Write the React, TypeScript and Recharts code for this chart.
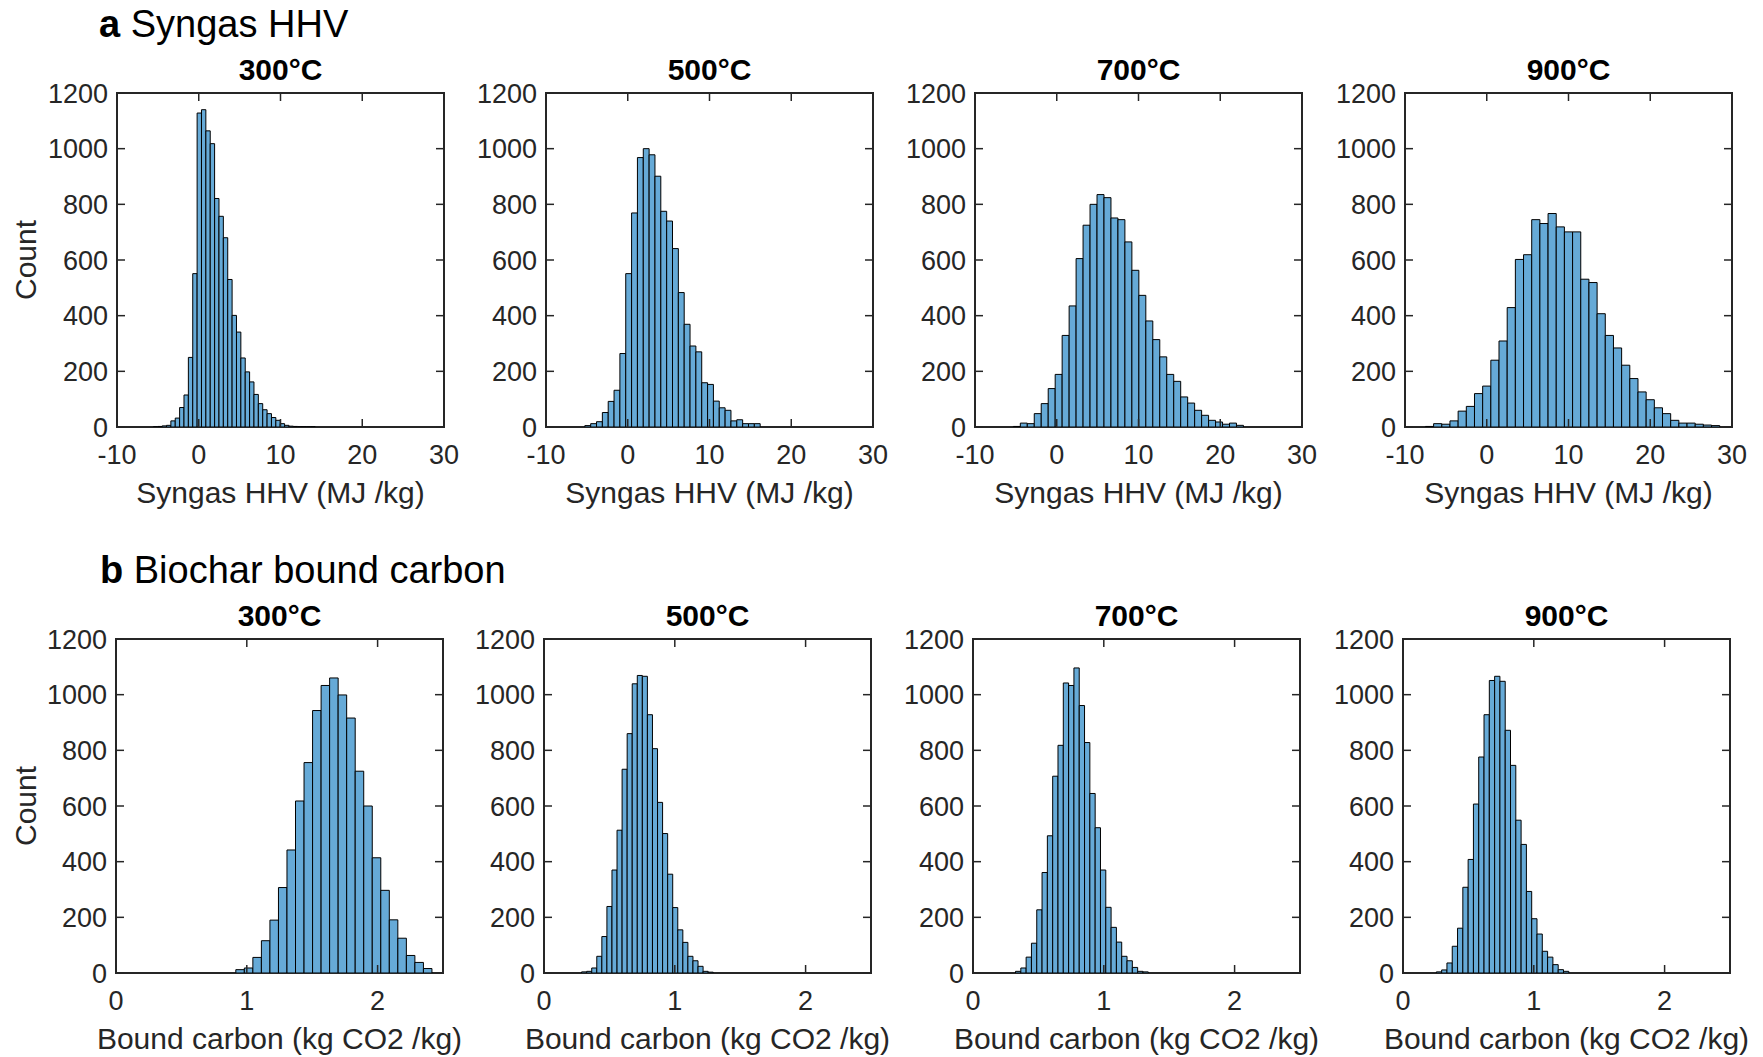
import { Bar, BarChart, Label, ReferenceArea, XAxis, YAxis } from "recharts";

// counts per bin
const hhv300 = [1, 2, 4, 6, 22, 32, 70, 115, 250, 551, 1128, 1140, 1064, 1018, 821, 757, 680, 530, 401, 341, 248, 198, 162, 117, 84, 62, 48, 34, 24, 12, 6, 3, 2, 1, 1, 1, 1];
const hhv500 = [5, 12, 19, 52, 92, 132, 264, 551, 769, 968, 1000, 978, 901, 775, 740, 641, 483, 369, 291, 270, 159, 153, 93, 69, 60, 22, 26, 12, 12, 12];
const hhv700 = [2, 14, 12, 48, 84, 138, 189, 329, 435, 605, 725, 800, 835, 824, 751, 745, 665, 563, 473, 381, 314, 252, 189, 164, 108, 86, 60, 42, 24, 18, 10, 14, 6];
const hhv900 = [2, 12, 10, 22, 57, 74, 120, 147, 240, 309, 429, 602, 619, 745, 731, 767, 719, 701, 701, 531, 519, 407, 329, 284, 222, 174, 126, 98, 69, 48, 24, 14, 14, 10, 7, 5];

const carbon300 = [12, 18, 56, 116, 190, 307, 442, 618, 756, 943, 1033, 1060, 999, 916, 725, 600, 414, 297, 191, 125, 63, 38, 16];
const carbon500 = [4, 6, 18, 60, 131, 239, 370, 513, 732, 860, 1039, 1069, 1066, 928, 806, 613, 501, 355, 235, 155, 110, 60, 44, 24, 6, 3];
const carbon700 = [6, 18, 57, 107, 227, 361, 493, 707, 818, 1042, 1033, 1096, 961, 828, 645, 522, 370, 236, 164, 111, 60, 44, 20, 6, 4];
const carbon900 = [4, 11, 36, 96, 161, 308, 408, 607, 776, 928, 1051, 1066, 1048, 872, 746, 549, 462, 293, 195, 140, 78, 57, 30, 12, 6];

// histogram bin edges (first edge, bin width)
const hhvBinStart = [-5.55, -5.25, -5.31, -7.5];
const hhvBinWidth = [0.535, 0.715, 0.853, 1];
const carbonBinStart = [0.916, 0.2875, 0.325, 0.255];
const carbonBinWidth = [0.0652, 0.0387, 0.0406, 0.0405];

const temps = ["300°C", "500°C", "700°C", "900°C"];
const countTicks = [0, 200, 400, 600, 800, 1000, 1200];
const hhvTicks = [-10, 0, 10, 20, 30];
const carbonTicks = [0, 1, 2];

const AX = "#262626";
const FONT = '"Liberation Sans", Arial, Helvetica, sans-serif';
const PLOT_W = 327;
const PLOT_H = 334;
const AXIS_W = 110;
const TOP_PAD = 25;
const RIGHT_PAD = 40;
const BOTTOM_H = 88;
const TICK_LEN = 8;

const rowTops = [93, 639];
const colLefts = [
  [117, 546, 975, 1405],
  [116, 544, 973, 1403],
];

function XTick(props: any) {
  const { x, y, payload } = props;
  return (
    <g>
      <line x1={x} y1={y} x2={x} y2={y - TICK_LEN} stroke={AX} strokeWidth={1.5} />
      <line x1={x} y1={y - PLOT_H} x2={x} y2={y - PLOT_H + TICK_LEN} stroke={AX} strokeWidth={1.5} />
      <text x={x} y={y + 37} textAnchor="middle" fontSize={27} fontFamily={FONT} fill={AX}>
        {payload.value}
      </text>
    </g>
  );
}

function YTick(props: any) {
  const { x, y, payload } = props;
  return (
    <g>
      <line x1={x} y1={y} x2={x + TICK_LEN} y2={y} stroke={AX} strokeWidth={1.5} />
      <line x1={x + PLOT_W} y1={y} x2={x + PLOT_W - TICK_LEN} y2={y} stroke={AX} strokeWidth={1.5} />
      <text x={x - 9} y={y} dy="0.36em" textAnchor="end" fontSize={27} fontFamily={FONT} fill={AX}>
        {payload.value}
      </text>
    </g>
  );
}

type HistProps = {
  left: number;
  top: number;
  counts: number[];
  binStart: number;
  binWidth: number;
  domain: [number, number];
  ticks: number[];
  xLabel: string;
};

function Histogram({ left, top, counts, binStart, binWidth, domain, ticks, xLabel }: HistProps) {
  const data = counts.map((count, i) => ({ x: binStart + (i + 0.5) * binWidth, count }));
  const barPx = (binWidth / (domain[1] - domain[0])) * PLOT_W * 0.999;

  return (
    <div style={{ position: "absolute", left: left - AXIS_W, top: top - TOP_PAD }}>
      <BarChart
        width={AXIS_W + PLOT_W + RIGHT_PAD}
        height={TOP_PAD + PLOT_H + BOTTOM_H}
        data={data}
        margin={{ top: TOP_PAD, right: RIGHT_PAD, left: 0, bottom: 0 }}
        barGap={0}
        barCategoryGap={0}
        style={{ overflow: "visible" }}
      >
        <XAxis
          type="number"
          dataKey="x"
          domain={domain}
          ticks={ticks}
          interval={0}
          allowDataOverflow
          axisLine={false}
          tickLine={false}
          tickSize={0}
          tickMargin={0}
          height={BOTTOM_H}
          tick={(p: any) => <XTick {...p} />}
        >
          <Label
            content={(p: any) => (
              <text
                x={p.viewBox.x + p.viewBox.width / 2}
                y={p.viewBox.y + 76}
                textAnchor="middle"
                fontSize={30}
                fontFamily={FONT}
                fill={AX}
              >
                {xLabel}
              </text>
            )}
          />
        </XAxis>
        <YAxis
          type="number"
          domain={[0, 1200]}
          ticks={countTicks}
          interval={0}
          allowDataOverflow
          axisLine={false}
          tickLine={false}
          tickSize={0}
          tickMargin={0}
          width={AXIS_W}
          tick={(p: any) => <YTick {...p} />}
        />
        <Bar
          dataKey="count"
          fill="#66AAD7"
          stroke="#000000"
          strokeWidth={1}
          barSize={barPx}
          isAnimationActive={false}
        />
        <ReferenceArea
          x1={domain[0]}
          x2={domain[1]}
          y1={0}
          y2={1200}
          fill="none"
          fillOpacity={0}
          stroke={AX}
          strokeWidth={2}
          ifOverflow="visible"
        />
      </BarChart>
    </div>
  );
}

export default function App() {
  const hhvSets = [hhv300, hhv500, hhv700, hhv900];
  const carbonSets = [carbon300, carbon500, carbon700, carbon900];

  return (
    <div
      style={{
        position: "absolute",
        left: 0,
        top: 0,
        width: 1763,
        height: 1057,
        overflow: "hidden",
        background: "#ffffff",
        fontFamily: FONT,
      }}
    >
      <svg width={1763} height={1057} style={{ position: "absolute", left: 0, top: 0 }}>
        <text x={99} y={37} fontSize={38} fontFamily={FONT} fill="#000">
          <tspan fontWeight="bold">a</tspan>
          {" Syngas HHV"}
        </text>
        <text x={100} y={583} fontSize={38} fontFamily={FONT} fill="#000">
          <tspan fontWeight="bold">b</tspan>
          {" Biochar bound carbon"}
        </text>
        {rowTops.map((top, r) =>
          temps.map((t, c) => (
            <text
              key={`t${r}${c}`}
              x={colLefts[r][c] + PLOT_W / 2}
              y={top - 13}
              textAnchor="middle"
              fontSize={30}
              fontWeight="bold"
              fontFamily={FONT}
              fill="#000"
            >
              {t}
            </text>
          ))
        )}
        {rowTops.map((top, r) => (
          <text
            key={`c${r}`}
            transform={`translate(36, ${top + PLOT_H / 2}) rotate(-90)`}
            textAnchor="middle"
            fontSize={30}
            fontFamily={FONT}
            fill={AX}
          >
            Count
          </text>
        ))}
      </svg>
      {hhvSets.map((counts, i) => (
        <Histogram
          key={`h${i}`}
          left={colLefts[0][i]}
          top={rowTops[0]}
          counts={counts}
          binStart={hhvBinStart[i]}
          binWidth={hhvBinWidth[i]}
          domain={[-10, 30]}
          ticks={hhvTicks}
          xLabel="Syngas HHV (MJ /kg)"
        />
      ))}
      {carbonSets.map((counts, i) => (
        <Histogram
          key={`b${i}`}
          left={colLefts[1][i]}
          top={rowTops[1]}
          counts={counts}
          binStart={carbonBinStart[i]}
          binWidth={carbonBinWidth[i]}
          domain={[0, 2.5]}
          ticks={carbonTicks}
          xLabel="Bound carbon (kg CO2 /kg)"
        />
      ))}
    </div>
  );
}
